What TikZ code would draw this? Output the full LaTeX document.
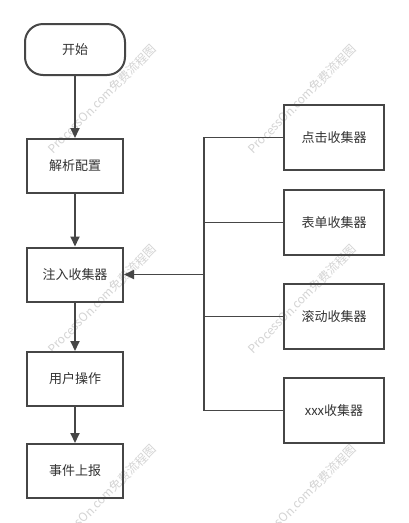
\documentclass[tikz,border=0pt]{standalone}
\usepackage{fontspec}
\setmainfont{Noto Sans CJK SC}
\usetikzlibrary{arrows.meta}
\definecolor{linegray}{HTML}{464646}
\definecolor{textgray}{HTML}{333333}
\definecolor{wmgray}{HTML}{D4D4D4}
\tikzset{
  box/.style={draw=linegray, line width=2pt, minimum width=96pt, minimum height=54pt, inner sep=0pt, text=textgray, font=\fontsize{13}{15}\selectfont},
  rbox/.style={box, minimum width=100pt, minimum height=65pt},
  startbox/.style={box, minimum width=100pt, minimum height=51pt, rounded corners=18pt},
  conn/.style={draw=linegray, line width=1.8pt},
  arr/.style={conn, -{Triangle[length=10pt,width=9pt]}},
  wm/.style={text=wmgray, rotate=45, inner sep=0pt, font=\fontsize{12}{14}\selectfont}
}
\begin{document}
\begin{tikzpicture}[x=1pt,y=-1pt]
\useasboundingbox (0,0) rectangle (409,523);
\clip (0,0) rectangle (409,523);
\fill[white] (0,0) rectangle (409,523);
% watermarks
\node[wm] (wm1) at (102,99) {ProcessOn.com免费流程图};
\node[wm] (wm2) at (302,99) {ProcessOn.com免费流程图};
\node[wm] (wm3) at (102,299) {ProcessOn.com免费流程图};
\node[wm] (wm4) at (302,299) {ProcessOn.com免费流程图};
\node[wm] (wm5) at (102,499) {ProcessOn.com免费流程图};
\node[wm] (wm6) at (302,499) {ProcessOn.com免费流程图};
% left column
\node[startbox] (start) at (75,49.5) {开始};
\node[box] (parse) at (75,166) {解析配置};
\node[box] (inj) at (75,274.5) {注入收集器};
\node[box] (user) at (75,379) {用户操作};
\node[box] (report) at (75,471) {事件上报};
% right column
\node[rbox] (c1) at (334,137.5) {点击收集器};
\node[rbox] (c2) at (334,222.5) {表单收集器};
\node[rbox] (c3) at (334,316.5) {滚动收集器};
\node[rbox] (c4) at (334,410.5) {xxx收集器};
\coordinate (j) at (204,274.5);
% connectors
\draw[arr] (start) -- (parse);
\draw[arr] (parse) -- (inj);
\draw[arr] (inj) -- (user);
\draw[arr] (user) -- (report);
\draw[conn] (c1.west) -| (j);
\draw[conn] (c2.west) -| (j);
\draw[conn] (c3.west) -| (j);
\draw[conn] (c4.west) -| (j);
\draw[arr] (j) -- (inj.east);
\end{tikzpicture}
\end{document}
